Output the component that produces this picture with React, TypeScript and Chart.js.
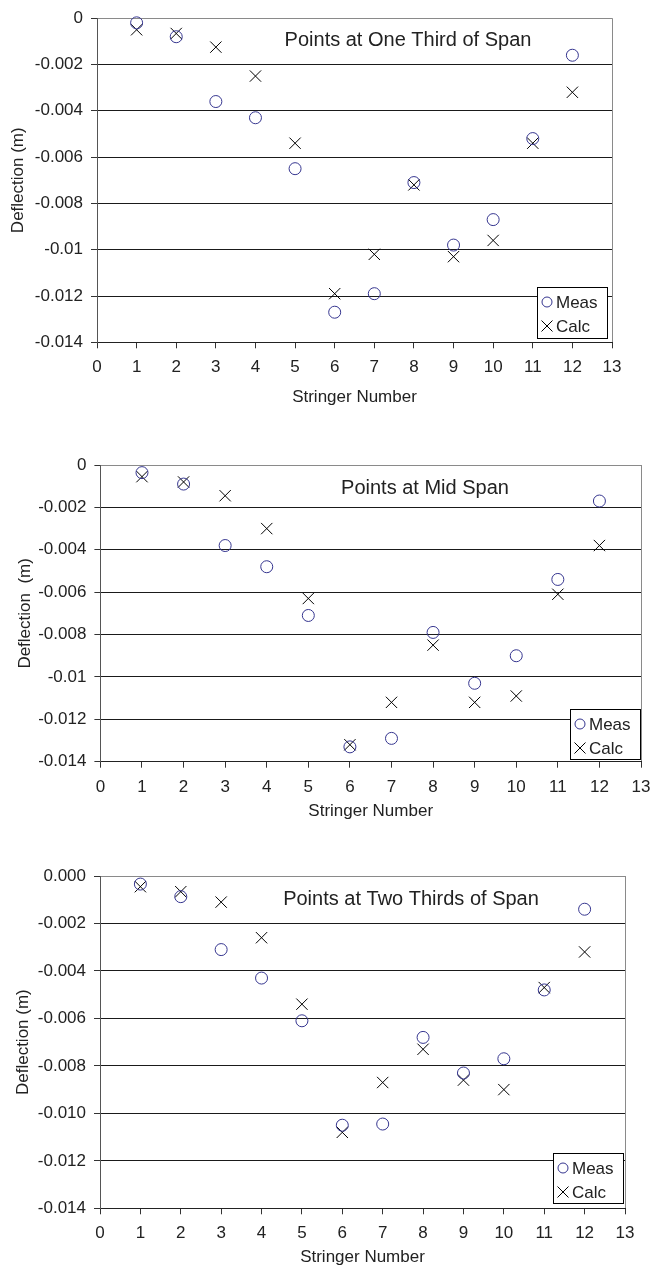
import React, { useEffect, useRef } from "react";
import { Chart, registerables } from "chart.js";

Chart.register(...registerables);

// ---------- data ----------
const stringers = [1, 2, 3, 4, 5, 6, 7, 8, 9, 10, 11, 12];
const xTickLabels = ["0", "1", "2", "3", "4", "5", "6", "7", "8", "9", "10", "11", "12", "13"];
// bottom -> top
const yTickLabelsGeneral = ["-0.014", "-0.012", "-0.01", "-0.008", "-0.006", "-0.004", "-0.002", "0"];
const yTickLabelsFixed = ["-0.014", "-0.012", "-0.010", "-0.008", "-0.006", "-0.004", "-0.002", "0.000"];

const measOneThird = [-0.0002, -0.0008, -0.0036, -0.0043, -0.0065, -0.0127, -0.0119, -0.0071, -0.0098, -0.0087, -0.0052, -0.0016];
const calcOneThird = [-0.0005, -0.00066, -0.00125, -0.0025, -0.0054, -0.0119, -0.0102, -0.0072, -0.0103, -0.0096, -0.0054, -0.0032];

const measMid = [-0.00036, -0.0009, -0.0038, -0.0048, -0.0071, -0.0133, -0.0129, -0.0079, -0.0103, -0.009, -0.0054, -0.0017];
const calcMid = [-0.00055, -0.0008, -0.00145, -0.003, -0.0063, -0.0132, -0.0112, -0.0085, -0.0112, -0.0109, -0.0061, -0.0038];

const measTwoThirds = [-0.00034, -0.00087, -0.0031, -0.0043, -0.0061, -0.0105, -0.01045, -0.0068, -0.0083, -0.0077, -0.0048, -0.0014];
const calcTwoThirds = [-0.00045, -0.00066, -0.0011, -0.0026, -0.0054, -0.0108, -0.0087, -0.0073, -0.0086, -0.009, -0.0047, -0.0032];

const seriesLabels = ["Meas", "Calc"];

// ---------- styling ----------
const FONT_FAMILY = '"Liberation Sans", Arial, Helvetica, sans-serif';
const TEXT_COLOR = "#222";
const MEAS_COLOR = "#35358f";
const Y_MIN = -0.014;
const Y_MAX = 0;
const Y_STEP = 0.002;

type PanelCfg = {
  title: string;
  titleX: number;
  titleY: number;
  yTitle: string;
  yLabels: string[];
  meas: number[];
  calc: number[];
  top: number;
  w: number;
  h: number;
  padTop: number;
  padRight: number;
  yAxisW: number;
  xAxisH: number;
  yTitlePad: number;
  xTitlePad: number;
  legW: number;
  legH: number;
  legRight: number;
  legBottom: number;
};

const panels: PanelCfg[] = [
  {
    title: "Points at One Third of Span",
    titleX: 408,
    titleY: 40,
    yTitle: "Deflection (m)",
    yLabels: yTickLabelsGeneral,
    meas: measOneThird,
    calc: calcOneThird,
    top: 0,
    w: 650,
    h: 410,
    padTop: 16.7,
    padRight: 38,
    yAxisW: 97,
    xAxisH: 67.7,
    yTitlePad: 7.8,
    xTitlePad: 2.8,
    legW: 70,
    legH: 51,
    legRight: 5,
    legBottom: 4.3,
  },
  {
    title: "Points at Mid Span",
    titleX: 425,
    titleY: 68,
    yTitle: "Deflection  (m)",
    yLabels: yTickLabelsGeneral,
    meas: measMid,
    calc: calcMid,
    top: 420,
    w: 680,
    h: 405,
    padTop: 45,
    padRight: 39,
    yAxisW: 100.4,
    xAxisH: 63.3,
    yTitlePad: 15.6,
    xTitlePad: 3.1,
    legW: 70,
    legH: 50,
    legRight: 1.4,
    legBottom: 2.4,
  },
  {
    title: "Points at Two Thirds of Span",
    titleX: 411,
    titleY: 59,
    yTitle: "Deflection (m)",
    yLabels: yTickLabelsFixed,
    meas: measTwoThirds,
    calc: calcTwoThirds,
    top: 840,
    w: 650,
    h: 428,
    padTop: 36,
    padRight: 25,
    yAxisW: 100,
    xAxisH: 59.7,
    yTitlePad: 13.5,
    xTitlePad: 0,
    legW: 70,
    legH: 50,
    legRight: 2,
    legBottom: 5.3,
  },
];

function makeDecorPlugin(cfg: PanelCfg) {
  return {
    id: "panelDecor",
    afterDraw(chart: any) {
      const ctx = chart.ctx as CanvasRenderingContext2D;
      const { right, bottom } = chart.chartArea;
      ctx.save();
      // in-plot title
      ctx.font = `20px ${FONT_FAMILY}`;
      ctx.fillStyle = TEXT_COLOR;
      ctx.textAlign = "center";
      ctx.textBaseline = "middle";
      ctx.fillText(cfg.title, cfg.titleX, cfg.titleY);

      // legend box
      const bx = Math.round(right - cfg.legRight - cfg.legW);
      const by = Math.round(bottom - cfg.legBottom - cfg.legH);
      ctx.fillStyle = "#ffffff";
      ctx.fillRect(bx, by, cfg.legW, cfg.legH);
      ctx.strokeStyle = "#000";
      ctx.lineWidth = 1;
      ctx.strokeRect(bx + 0.5, by + 0.5, cfg.legW, cfg.legH);

      const row1 = by + 15;
      const row2 = by + 39;
      const mx = bx + 10;
      // circle marker
      ctx.beginPath();
      ctx.strokeStyle = MEAS_COLOR;
      ctx.arc(mx, row1, 5, 0, Math.PI * 2);
      ctx.stroke();
      // cross marker
      ctx.beginPath();
      ctx.strokeStyle = "#000";
      const d = 5.5;
      ctx.moveTo(mx - d, row2 - d);
      ctx.lineTo(mx + d, row2 + d);
      ctx.moveTo(mx + d, row2 - d);
      ctx.lineTo(mx - d, row2 + d);
      ctx.stroke();

      ctx.font = `17px ${FONT_FAMILY}`;
      ctx.fillStyle = TEXT_COLOR;
      ctx.textAlign = "left";
      ctx.textBaseline = "middle";
      const ds = chart.data.datasets;
      ctx.fillText(ds[0].label, bx + 19, row1 + 1);
      ctx.fillText(ds[1].label, bx + 19, row2 + 1);
      ctx.restore();
    },
  };
}

function Panel({ cfg }: { cfg: PanelCfg }) {
  const ref = useRef<HTMLCanvasElement>(null);
  useEffect(() => {
    const font = { family: FONT_FAMILY, size: 17 };
    const chart = new Chart(ref.current as HTMLCanvasElement, {
      type: "scatter",
      data: {
        datasets: [
          {
            label: seriesLabels[0],
            data: stringers.map((x, i) => ({ x, y: cfg.meas[i] })),
            pointStyle: "circle",
            pointRadius: 6,
            pointHoverRadius: 6,
            pointBorderWidth: 1,
            borderColor: MEAS_COLOR,
            backgroundColor: "rgba(0,0,0,0)",
            showLine: false,
            clip: false,
          },
          {
            label: seriesLabels[1],
            data: stringers.map((x, i) => ({ x, y: cfg.calc[i] })),
            pointStyle: "crossRot",
            pointRadius: 8,
            pointHoverRadius: 8,
            pointBorderWidth: 1,
            borderColor: "#000",
            backgroundColor: "#000",
            showLine: false,
            clip: false,
          },
        ],
      } as any,
      options: {
        animation: false,
        responsive: false,
        events: [],
        layout: { padding: { top: cfg.padTop, left: 0, right: cfg.padRight, bottom: 0 } },
        plugins: {
          legend: { display: false },
          tooltip: { enabled: false },
          title: { display: false },
        },
        scales: {
          x: {
            type: "linear",
            min: 0,
            max: 13,
            ticks: {
              stepSize: 1,
              autoSkip: false,
              maxRotation: 0,
              padding: 9,
              color: TEXT_COLOR,
              font,
              callback: (v: any) => xTickLabels[Math.round(Number(v))],
            },
            grid: {
              color: (c: any) => (c.index === 13 ? "#8a8a8a" : "rgba(0,0,0,0)"),
              tickColor: "#333",
              tickLength: 6,
              lineWidth: 1,
            },
            border: { display: true, color: "#222", width: 1 },
            title: {
              display: true,
              text: "Stringer Number",
              color: TEXT_COLOR,
              font,
              padding: { top: 0, bottom: cfg.xTitlePad },
            },
            afterFit: (s: any) => {
              s.height = cfg.xAxisH;
            },
          },
          y: {
            type: "linear",
            min: Y_MIN,
            max: Y_MAX,
            ticks: {
              stepSize: Y_STEP,
              autoSkip: false,
              padding: 8,
              color: TEXT_COLOR,
              font,
              callback: (v: any) => cfg.yLabels[Math.round((Number(v) - Y_MIN) / Y_STEP)],
            },
            grid: {
              color: (c: any) => (c.index === 0 ? "rgba(0,0,0,0)" : c.index === 7 ? "#8a8a8a" : "#1a1a1a"),
              tickColor: "#333",
              tickLength: 6,
              lineWidth: 1,
            },
            border: { display: true, color: "#555", width: 1 },
            title: {
              display: true,
              text: cfg.yTitle,
              color: TEXT_COLOR,
              font,
              padding: { top: cfg.yTitlePad, bottom: 0 },
            },
            afterFit: (s: any) => {
              s.width = cfg.yAxisW;
            },
          },
        },
      } as any,
      plugins: [makeDecorPlugin(cfg)],
    });
    return () => chart.destroy();
  }, [cfg]);
  return (
    <canvas
      ref={ref}
      width={cfg.w}
      height={cfg.h}
      style={{ position: "absolute", left: 0, top: cfg.top, width: cfg.w, height: cfg.h, display: "block" }}
    />
  );
}

export default function App() {
  return (
    <div
      style={{
        position: "absolute",
        left: 0,
        top: 0,
        width: 650,
        height: 1268,
        overflow: "hidden",
        background: "#fff",
      }}
    >
      {panels.map((p, i) => (
        <Panel key={i} cfg={p} />
      ))}
    </div>
  );
}
